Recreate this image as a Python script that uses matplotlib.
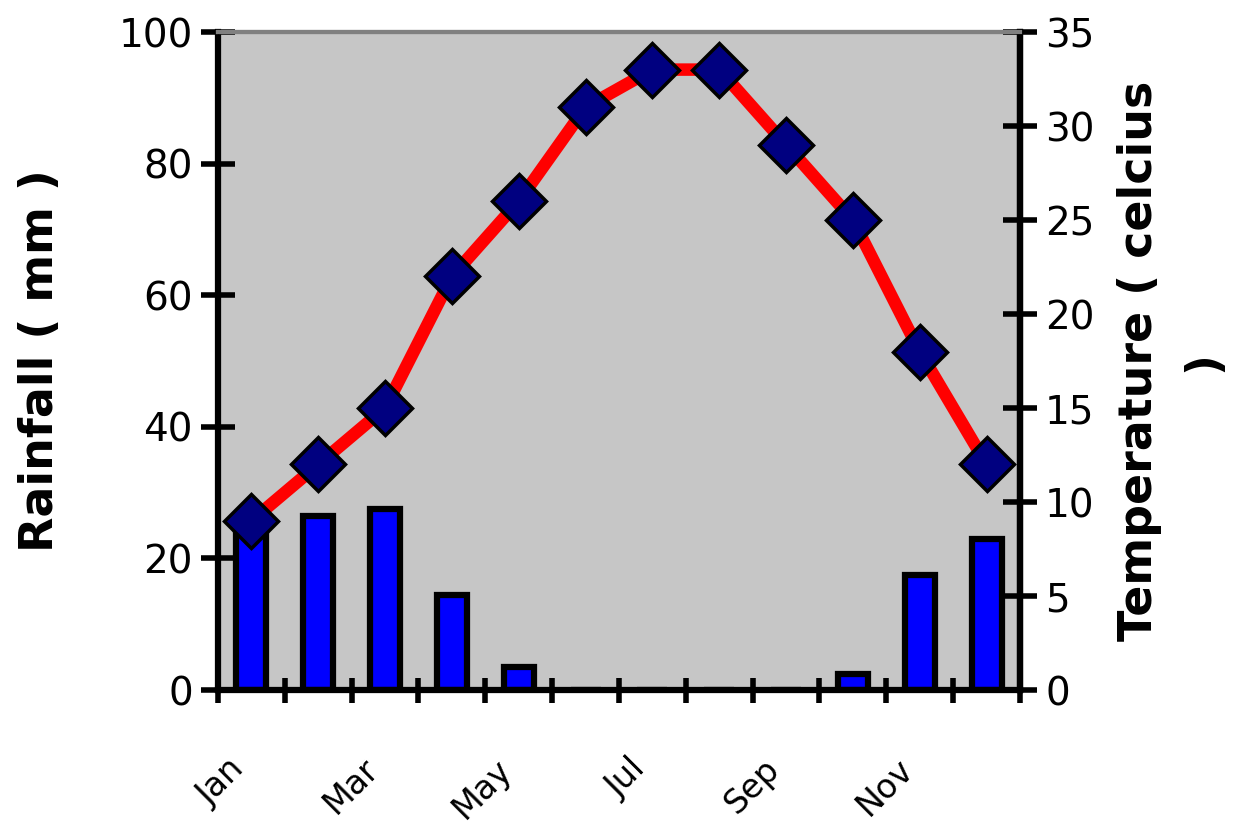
import matplotlib.pyplot as plt
import numpy as np

months = ["Jan", "Feb", "Mar", "Apr", "May", "Jun",
          "Jul", "Aug", "Sep", "Oct", "Nov", "Dec"]
rainfall = [25, 26.5, 27.5, 14.5, 3.5, 0, 0, 0, 0, 2.5, 17.5, 23]
temperature = [9, 12, 15, 22, 26, 31, 33, 33, 29, 25, 18, 12]
shown_labels = ["Jan", "Mar", "May", "Jul", "Sep", "Nov"]

x = np.arange(len(months))

fig = plt.figure(figsize=(12.39, 8.39), dpi=100)
ax = fig.add_axes([218 / 1239, 1 - 690 / 839, (1020 - 218) / 1239, (690 - 32) / 839])
ax.set_facecolor("#c6c6c6")

ax.bar(x, rainfall, width=0.45, color="#0000ff", edgecolor="black", linewidth=4.5, zorder=2)
ax.set_xlim(-0.5, 11.5)
ax.set_ylim(0, 100)
ax.set_yticks([0, 20, 40, 60, 80, 100])
ax.set_ylabel("Rainfall ( mm )", fontsize=33, fontweight="bold", labelpad=40)

# category boundary ticks
ax.set_xticks(np.arange(-0.5, 12, 1), minor=True)
ax.set_xticks([months.index(m) for m in shown_labels])
ax.set_xticklabels(shown_labels, rotation=45, ha="right", fontsize=24)
ax.tick_params(axis="x", which="major", length=0, pad=45)
ax.tick_params(axis="x", which="minor", direction="inout", length=18, width=4)
ax.tick_params(axis="y", direction="inout", length=24, width=4, labelsize=28, pad=6)

for side in ["left", "bottom", "right"]:
    ax.spines[side].set_linewidth(4.5)
    ax.spines[side].set_color("black")
ax.spines["top"].set_color("#808080")
ax.spines["top"].set_linewidth(3)

ax2 = ax.twinx()
ax2.plot(x, temperature, color="#ff0000", linewidth=9, zorder=3,
         marker="D", markersize=28, markerfacecolor="#000080",
         markeredgecolor="black", markeredgewidth=2.5)
ax2.set_ylim(0, 35)
ax2.set_yticks([0, 5, 10, 15, 20, 25, 30, 35])
ax2.tick_params(axis="y", direction="inout", length=24, width=4, labelsize=28, pad=6)
ax2.set_ylabel("Temperature ( celcius\n)", fontsize=33, fontweight="bold",
               labelpad=16, linespacing=1.55)
ax2.spines["right"].set_linewidth(4.5)
ax2.spines["top"].set_color("#808080")
ax2.spines["top"].set_linewidth(3)

fig.savefig("out.png", dpi=100)
